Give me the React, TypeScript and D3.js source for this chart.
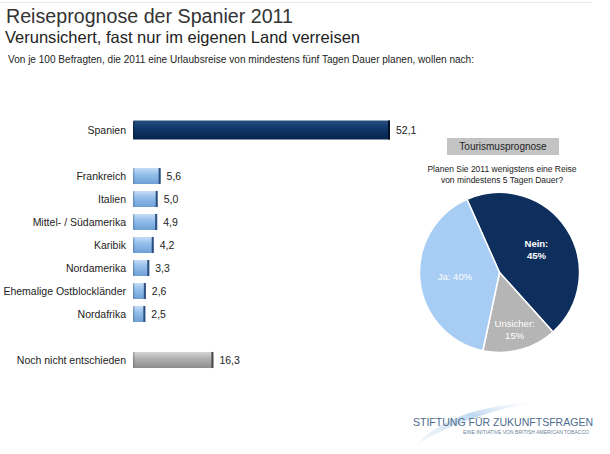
import React from "react";
import * as d3 from "d3";

const categories = [
  "Spanien",
  "Frankreich",
  "Italien",
  "Mittel- / Südamerika",
  "Karibik",
  "Nordamerika",
  "Ehemalige Ostblockländer",
  "Nordafrika",
  "Noch nicht entschieden",
];
const values = [52.1, 5.6, 5.0, 4.9, 4.2, 3.3, 2.6, 2.5, 16.3];
const groups = ["home", "abroad", "abroad", "abroad", "abroad", "abroad", "abroad", "abroad", "undecided"];
// row slots, with blank rows separating groups
const slots = ["Spanien", "_gap1", "Frankreich", "Italien", "Mittel- / Südamerika", "Karibik", "Nordamerika", "Ehemalige Ostblockländer", "Nordafrika", "_gap2", "Noch nicht entschieden"];

const pieLabels = ["Nein", "Unsicher", "Ja"];
const pieValues = [45, 15, 40];

const fmt = (v: number) => v.toFixed(1).replace(".", ",");

export default function App() {
  const W = 610, H = 454;
  const x = d3.scaleLinear().domain([0, 52.1]).range([133, 390]);
  const y = d3.scaleBand().domain(slots).range([118.5, 371.5]).paddingInner(0.3).paddingOuter(0.15);

  const cx = 499.5, cy = 272.5, r = 80;
  const startA = (-24 * Math.PI) / 180;
  const pie = d3.pie<number>().sort(null).startAngle(startA).endAngle(startA + 2 * Math.PI);
  const arcs = pie(pieValues);
  const arcGen = d3.arc<d3.PieArcDatum<number>>().innerRadius(0).outerRadius(r);
  const pieColors = ["#0e2f5e", "#b5b5b5", "#a7cdf4"];
  const labelR = [0.55, 0.73, 0.56];

  const font = "'Liberation Sans', Arial, sans-serif";

  return (
    <svg width={W} height={H} style={{ position: "absolute", left: 0, top: 0, background: "#fff" }} fontFamily={font}>
      <defs>
        <linearGradient id="gHome" x1="0" y1="0" x2="0" y2="1">
          <stop offset="0" stopColor="#2a4f82" />
          <stop offset="0.35" stopColor="#123a6c" />
          <stop offset="1" stopColor="#06234c" />
        </linearGradient>
        <linearGradient id="gAbroad" x1="0" y1="0" x2="0" y2="1">
          <stop offset="0" stopColor="#c6ddf6" />
          <stop offset="0.4" stopColor="#95bfeb" />
          <stop offset="1" stopColor="#6f9fd6" />
        </linearGradient>
        <linearGradient id="gUnd" x1="0" y1="0" x2="0" y2="1">
          <stop offset="0" stopColor="#d6d6d6" />
          <stop offset="0.4" stopColor="#b2b2b2" />
          <stop offset="1" stopColor="#8e8e8e" />
        </linearGradient>
        <linearGradient id="gSwoosh" x1="0" y1="1" x2="1" y2="0">
          <stop offset="0" stopColor="#dbe9f6" stopOpacity="0.3" />
          <stop offset="0.6" stopColor="#b9d4ee" stopOpacity="0.9" />
          <stop offset="1" stopColor="#e6f0fa" stopOpacity="0.2" />
        </linearGradient>
      </defs>

      <line x1={0} x2={592} y1={2.5} y2={2.5} stroke="#e8e8e8" strokeWidth={1} />

      <text x={6} y={23} fontSize={19.5} fill="#333" textLength={287} lengthAdjust="spacingAndGlyphs">Reiseprognose der Spanier 2011</text>
      <text x={5} y={43} fontSize={16.5} fill="#222" textLength={355} lengthAdjust="spacingAndGlyphs">Verunsichert, fast nur im eigenen Land verreisen</text>
      <text x={8} y={63} fontSize={10.5} fill="#222" textLength={466} lengthAdjust="spacingAndGlyphs">
        Von je 100 Befragten, die 2011 eine Urlaubsreise von mindestens fünf Tagen Dauer planen, wollen nach:
      </text>

      {categories.map((c, i) => {
        const g = groups[i];
        const bw = y.bandwidth() + (g === "home" ? 3 : 0);
        const yc = (y(c) as number) + y.bandwidth() / 2;
        const y0 = yc - bw / 2;
        const x0 = x(0), x1 = x(values[i]);
        const fill = g === "home" ? "url(#gHome)" : g === "abroad" ? "url(#gAbroad)" : "url(#gUnd)";
        const cap = g === "home" ? "#020e22" : g === "abroad" ? "#2c4f7e" : "#4a4a4a";
        return (
          <g key={c}>
            <rect x={x0} y={y0} width={x1 - x0} height={bw} fill={fill} rx={1.5} />
            <rect x={x0} y={y0} width={1.5} height={bw} fill={cap} opacity={0.35} />
            <rect x={x1 - 2} y={y0} width={2} height={bw} fill={cap} />
            <text x={126} y={yc + 3.8} fontSize={10.5} fill="#222" textAnchor="end">{c}</text>
            <text x={x1 + 6} y={yc + 3.8} fontSize={10.5} fill="#222">{fmt(values[i])}</text>
          </g>
        );
      })}

      <rect x={447} y={138} width={112} height={17} fill="#c3c3c3" />
      <text x={503} y={150} fontSize={10} fill="#222" textAnchor="middle">Tourismusprognose</text>
      <text x={502} y={172} fontSize={8.5} fill="#222" textAnchor="middle">Planen Sie 2011 wenigstens eine Reise</text>
      <text x={502} y={183} fontSize={8.5} fill="#222" textAnchor="middle">von mindestens 5 Tagen Dauer?</text>

      <g transform={`translate(${cx},${cy})`}>
        {arcs.map((a, i) => (
          <path key={pieLabels[i]} d={arcGen(a) as string} fill={pieColors[i]} stroke="#fff" strokeWidth={1.5} />
        ))}
        {arcs.map((a, i) => {
          const m = (a.startAngle + a.endAngle) / 2;
          const lx = Math.sin(m) * r * labelR[i];
          const ly = -Math.cos(m) * r * labelR[i];
          const bold = i === 0;
          if (pieLabels[i] === "Ja") {
            return (
              <text key={i} x={lx} y={ly + 3} fontSize={9.5} fill="#fff" textAnchor="middle">
                {`${pieLabels[i]}: ${pieValues[i]}%`}
              </text>
            );
          }
          return (
            <text key={i} x={lx} y={ly} fontSize={9.5} fill="#fff" textAnchor="middle" fontWeight={bold ? "bold" : "normal"}>
              <tspan x={lx} dy={-2}>{`${pieLabels[i]}:`}</tspan>
              <tspan x={lx} dy={12}>{`${pieValues[i]}%`}</tspan>
            </text>
          );
        })}
      </g>

      <path d="M417,444 C440,420 480,405 530,403 C490,410 450,425 417,444 Z" fill="url(#gSwoosh)" />
      <text x={413} y={426} fontSize={11.5} fill="#4d6b8c" textLength={180} lengthAdjust="spacingAndGlyphs">STIFTUNG FÜR ZUKUNFTSFRAGEN</text>
      <text x={463} y={434} fontSize={4.5} fill="#6d7f96" textLength={126} lengthAdjust="spacingAndGlyphs">EINE INITIATIVE VON BRITISH AMERICAN TOBACCO</text>
    </svg>
  );
}
